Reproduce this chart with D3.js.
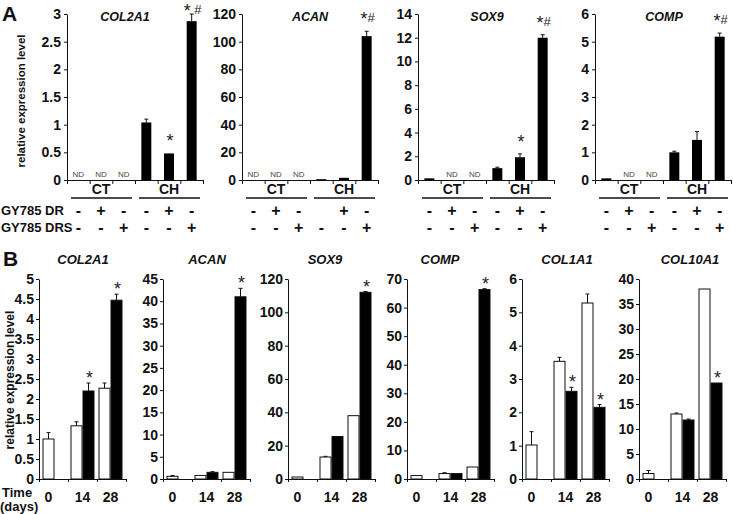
<!DOCTYPE html>
<html>
<head>
<meta charset="utf-8">
<script src="https://cdn.jsdelivr.net/npm/d3@7"></script>
<style>
  html, body { margin: 0; padding: 0; background: #fff; }
  svg { display: block; font-family: "Liberation Sans", Arial, sans-serif; }
</style>
</head>
<body>
<svg id="fig" width="733" height="514"></svg>
<script>
// ── Panel A data: CT / CH cultures with GY785 DR / DRS ──
const conditionsA = ['CT1', 'CT2', 'CT3', 'CH1', 'CH2', 'CH3'];
const groupsA = ['CT', 'CH'];
const drRowA = ['-', '+', '-', '-', '+', '-'];
const drRowAcanA = ['-', '+', '-', '', '+', '-'];
const drsRowA = ['-', '-', '+', '-', '-', '+'];
const rowLabelsA = ['GY785 DR', 'GY785 DRS'];

const genesA = ['COL2A1', 'ACAN', 'SOX9', 'COMP'];
const yMaxA = [3, 120, 14, 6];
const yStepA = [0.5, 20, 2, 1];

const col2a1A = [null, null, null, 1.04, 0.48, 2.87];
const col2a1AErr = [0, 0, 0, 0.06, 0, 0.13];
const col2a1AMark = ['', '', '', '', '*', '* #'];

const acanA = [null, null, null, 0.6, 1.6, 104];
const acanAErr = [0, 0, 0, 0, 0, 3.5];
const acanAMark = ['', '', '', '', '', '*#'];

const sox9A = [0.14, null, null, 1.0, 1.92, 12.0];
const sox9AErr = [0.04, 0, 0, 0.08, 0.28, 0.25];
const sox9AMark = ['', '', '', '', '*', '*#'];

const compA = [0.06, null, null, 1.0, 1.45, 5.18];
const compAErr = [0, 0, 0, 0.04, 0.3, 0.13];
const compAMark = ['', '', '', '', '', '*#'];

// ── Panel B data: time course (white = control, black = treated) ──
const daysB = ['0', '14', '28'];
const seriesB = ['white', 'black'];
const genesB = ['COL2A1', 'ACAN', 'SOX9', 'COMP', 'COL1A1', 'COL10A1'];
const yMaxB = [5, 45, 120, 70, 6, 40];
const yStepB = [0.5, 5, 20, 10, 1, 5];

const col2a1White = [1.0, 1.33, 2.27];
const col2a1WhiteErr = [0.16, 0.1, 0.13];
const col2a1Black = [null, 2.2, 4.47];
const col2a1BlackErr = [0, 0.2, 0.15];
const col2a1Mark = ['', '*', '*'];

const acanWhite = [0.6, 0.8, 1.5];
const acanWhiteErr = [0.2, 0.1, 0];
const acanBlack = [null, 1.5, 41];
const acanBlackErr = [0, 0.15, 1.9];
const acanMark = ['', '', '*'];

const sox9White = [1.2, 13.2, 38];
const sox9WhiteErr = [0, 0.4, 0];
const sox9Black = [null, 25.5, 112];
const sox9BlackErr = [0, 0, 0.5];
const sox9Mark = ['', '', '*'];

const compWhite = [1.2, 1.9, 4.2];
const compWhiteErr = [0, 0.3, 0];
const compBlack = [null, 1.9, 66.3];
const compBlackErr = [0, 0, 0.3];
const compMark = ['', '', '*'];

const col1a1White = [1.02, 3.53, 5.28];
const col1a1WhiteErr = [0.4, 0.12, 0.27];
const col1a1Black = [null, 2.63, 2.15];
const col1a1BlackErr = [0, 0.12, 0.08];
const col1a1Mark = ['', '*', '*'];

const col10a1White = [1.1, 13, 38];
const col10a1WhiteErr = [0.6, 0.2, 0];
const col10a1Black = [null, 11.8, 19.2];
const col10a1BlackErr = [0, 0.2, 0];
const col10a1Mark = ['', '', '*'];

// ── Layout ──
const aLeft = [67, 242, 418, 595], aW = 136, aTop = 14, aBot = 180;
const aTitleX = [125, 310, 487, 664];
const bLeft = [39, 163, 288, 407, 522, 639], bW = 87, bTop = 279, bBot = 479;
const bTitleX = [83, 207, 325, 440, 567, 690];
const ink = '#111';

const svg = d3.select('#fig');

function styleAxis(a) {
  a.select('.domain').attr('stroke', ink).attr('stroke-width', 1);
  a.selectAll('.tick line').attr('stroke', ink);
  a.selectAll('.tick text').attr('fill', ink).attr('font-size', 14).attr('font-weight', 'bold')
    .attr('font-family', '"Liberation Sans", Arial, sans-serif');
}

function errBar(g, cx, y0, y1) {
  if (Math.abs(y0 - y1) < 0.5) return;
  g.append('line').attr('x1', cx).attr('x2', cx).attr('y1', y0).attr('y2', y1).attr('stroke', ink);
  g.append('line').attr('x1', cx - 2).attr('x2', cx + 2).attr('y1', y1).attr('y2', y1).attr('stroke', ink);
}

// star big, hash smaller and raised — like the original figure
function markText(g, cx, y, mark) {
  const t = g.append('text').attr('x', cx + 1).attr('y', y).attr('text-anchor', 'middle').attr('fill', '#222');
  mark.split('').forEach(ch => {
    const s = t.append('tspan').attr('font-size', ch === '#' ? 13 : 18).text(ch === ' ' ? '\u2009' : ch);
    if (ch === '#') s.attr('dy', -3);
  });
}

function drawA(i, vals, errs, marks, drRow) {
  const L = aLeft[i];
  const g = svg.append('g');
  const x = d3.scaleBand().domain(conditionsA).range([L, L + aW]).paddingInner(0.56).paddingOuter(0.28);
  const y = d3.scaleLinear().domain([0, yMaxA[i]]).range([aBot, aTop]);
  const xb = d3.scaleLinear().domain([0, conditionsA.length]).range([L, L + aW]);

  g.append('g').attr('transform', `translate(${L},0)`)
    .call(d3.axisLeft(y).tickValues(d3.range(0, yMaxA[i] + yStepA[i] / 2, yStepA[i]))
      .tickFormat(d3.format('~g')).tickSize(3).tickSizeOuter(0).tickPadding(3))
    .call(styleAxis);
  g.append('g').attr('transform', `translate(0,${aBot})`)
    .call(d3.axisBottom(xb).tickValues(d3.range(conditionsA.length + 1)).tickFormat('').tickSize(4).tickSizeOuter(0))
    .call(styleAxis);

  conditionsA.forEach((c, k) => {
    const cx = x(c) + x.bandwidth() / 2;
    const v = vals[k];
    if (v === null) {
      g.append('text').attr('x', cx).attr('y', aBot - 3).attr('text-anchor', 'middle')
        .attr('font-size', 8).attr('fill', '#444').attr('opacity', 0.99).text('ND');
    } else {
      g.append('rect').attr('x', x(c)).attr('y', y(v)).attr('width', x.bandwidth())
        .attr('height', aBot - y(v)).attr('fill', '#000');
      errBar(g, cx, y(v), y(v + errs[k]));
      if (marks[k]) markText(g, cx, Math.max(y(v + errs[k]) - 6, 17), marks[k]);
    }
    g.append('text').attr('x', cx).attr('y', 216).attr('text-anchor', 'middle')
      .attr('font-size', 16).attr('font-weight', 'bold').attr('fill', ink).text(drRow[k]);
    g.append('text').attr('x', cx).attr('y', 233).attr('text-anchor', 'middle')
      .attr('font-size', 16).attr('font-weight', 'bold').attr('fill', ink).text(drsRowA[k]);
  });

  groupsA.forEach((grp, k) => {
    const x0 = xb(k * 3), x1 = xb(k * 3 + 3);
    g.append('text').attr('x', (x0 + x1) / 2).attr('y', 194).attr('text-anchor', 'middle')
      .attr('font-size', 14).attr('font-weight', 'bold').attr('fill', ink).text(grp);
    g.append('line').attr('x1', x0 + 4).attr('x2', x1 - 3).attr('y1', 198).attr('y2', 198)
      .attr('stroke', ink).attr('stroke-width', 1.6);
  });

  g.append('text').attr('x', aTitleX[i]).attr('y', 21).attr('text-anchor', 'middle')
    .attr('font-size', 12.5).attr('font-weight', 'bold').attr('font-style', 'italic')
    .attr('fill', ink).text(genesA[i]);
}

function drawB(i, white, whiteErr, black, blackErr, marks) {
  const L = bLeft[i];
  const g = svg.append('g');
  const x = d3.scaleBand().domain(daysB).range([L, L + bW]).paddingInner(0.143).paddingOuter(0.125);
  const xs = d3.scaleBand().domain(seriesB).range([0, x.bandwidth()]);
  const y = d3.scaleLinear().domain([0, yMaxB[i]]).range([bBot, bTop]);
  const xb = d3.scaleLinear().domain([0, daysB.length]).range([L, L + bW]);

  g.append('g').attr('transform', `translate(${L},0)`)
    .call(d3.axisLeft(y).tickValues(d3.range(0, yMaxB[i] + yStepB[i] / 2, yStepB[i]))
      .tickFormat(d3.format('~g')).tickSize(3).tickSizeOuter(0).tickPadding(2))
    .call(styleAxis);
  g.append('g').attr('transform', `translate(0,${bBot})`)
    .call(d3.axisBottom(xb).tickValues(d3.range(daysB.length + 1)).tickFormat('').tickSize(3).tickSizeOuter(0))
    .call(styleAxis);

  daysB.forEach((d, k) => {
    const bars = [
      { s: 'white', v: white[k], e: whiteErr[k], m: '' },
      { s: 'black', v: black[k], e: blackErr[k], m: marks[k] }
    ].filter(b => b.v !== null);
    bars.forEach(b => {
      const bx = x(d) + xs(b.s);
      const cx = bx + xs.bandwidth() / 2;
      g.append('rect').attr('x', bx + 0.5).attr('y', y(b.v)).attr('width', xs.bandwidth() - 1)
        .attr('height', bBot - y(b.v))
        .attr('fill', b.s === 'white' ? '#fff' : '#000').attr('stroke', ink).attr('stroke-width', 1);
      errBar(g, cx, y(b.v), y(b.v + b.e));
      if (b.m) markText(g, cx, y(b.v + b.e) + 1, b.m);
    });
    const lx = d3.mean(bars, b => x(d) + xs(b.s) + xs.bandwidth() / 2);
    g.append('text').attr('x', lx).attr('y', 502).attr('text-anchor', 'middle')
      .attr('font-size', 14).attr('font-weight', 'bold').attr('fill', ink).text(d);
  });

  g.append('text').attr('x', bTitleX[i]).attr('y', 264).attr('text-anchor', 'middle')
    .attr('font-size', 13).attr('font-weight', 'bold').attr('font-style', 'italic')
    .attr('fill', ink).text(genesB[i]);
}

// ── Panel A ──
drawA(0, col2a1A, col2a1AErr, col2a1AMark, drRowA);
drawA(1, acanA, acanAErr, acanAMark, drRowAcanA);
drawA(2, sox9A, sox9AErr, sox9AMark, drRowA);
drawA(3, compA, compAErr, compAMark, drRowA);

svg.append('text').attr('x', 2).attr('y', 21).attr('font-size', 21).attr('font-weight', 'bold')
  .attr('fill', ink).text('A');
svg.append('text').attr('transform', 'translate(25,101) rotate(-90)').attr('text-anchor', 'middle')
  .attr('font-size', 11.5).attr('font-weight', 'bold').attr('fill', ink).text('relative expression level');
rowLabelsA.forEach((t, k) => {
  svg.append('text').attr('x', 1).attr('y', 215 + k * 17).attr('font-size', 13).attr('font-weight', 'bold')
    .attr('fill', ink).text(t);
});

// ── Panel B ──
drawB(0, col2a1White, col2a1WhiteErr, col2a1Black, col2a1BlackErr, col2a1Mark);
drawB(1, acanWhite, acanWhiteErr, acanBlack, acanBlackErr, acanMark);
drawB(2, sox9White, sox9WhiteErr, sox9Black, sox9BlackErr, sox9Mark);
drawB(3, compWhite, compWhiteErr, compBlack, compBlackErr, compMark);
drawB(4, col1a1White, col1a1WhiteErr, col1a1Black, col1a1BlackErr, col1a1Mark);
drawB(5, col10a1White, col10a1WhiteErr, col10a1Black, col10a1BlackErr, col10a1Mark);

svg.append('text').attr('x', 3).attr('y', 266).attr('font-size', 21).attr('font-weight', 'bold')
  .attr('fill', ink).text('B');
svg.append('text').attr('transform', 'translate(14,380) rotate(-90)').attr('text-anchor', 'middle')
  .attr('font-size', 12).attr('font-weight', 'bold').attr('fill', ink).text('relative expression level');
svg.append('text').attr('x', 2).attr('y', 497).attr('font-size', 13).attr('font-weight', 'bold')
  .attr('fill', ink).text('Time');
svg.append('text').attr('x', 0).attr('y', 511).attr('font-size', 13).attr('font-weight', 'bold')
  .attr('fill', ink).text('(days)');
</script>
</body>
</html>
